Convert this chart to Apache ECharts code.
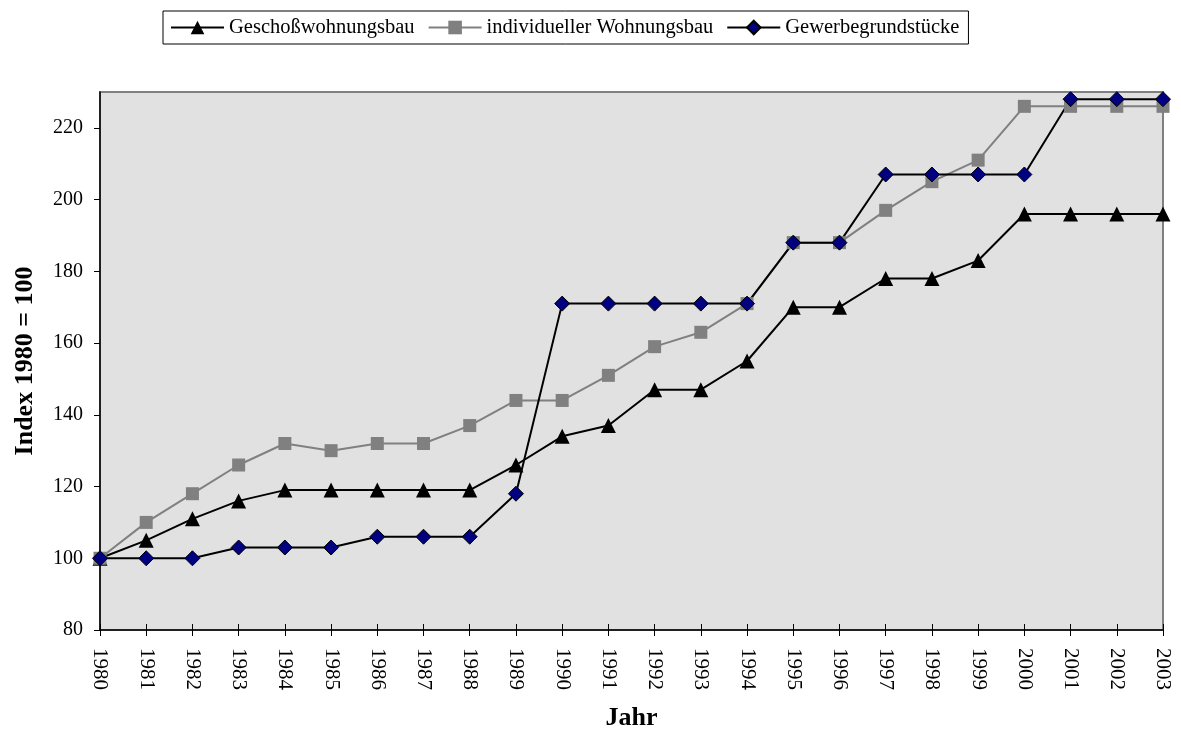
<!DOCTYPE html>
<html>
<head>
<meta charset="utf-8">
<script src="https://cdn.jsdelivr.net/npm/echarts@6/dist/echarts.min.js"></script>
<style>
  html, body { margin: 0; padding: 0; background: #fff; }
  #chart { width: 1181px; height: 736px; }
</style>
</head>
<body>
<div id="chart"></div>
<script>
const years = ['1980', '1981', '1982', '1983', '1984', '1985', '1986', '1987', '1988', '1989', '1990', '1991',
  '1992', '1993', '1994', '1995', '1996', '1997', '1998', '1999', '2000', '2001', '2002', '2003'];
const geschoss = [100, 105, 111, 116, 119, 119, 119, 119, 119, 126, 134, 137, 147, 147, 155, 170, 170, 178, 178, 183, 196, 196, 196, 196];
const individuell = [100, 110, 118, 126, 132, 130, 132, 132, 137, 144, 144, 151, 159, 163, 171, 188, 188, 197, 205, 211, 226, 226, 226, 226];
const gewerbe = [100, 100, 100, 103, 103, 103, 106, 106, 106, 118, 171, 171, 171, 171, 171, 188, 188, 207, 207, 207, 207, 228, 228, 228];
const yTicks = [80, 100, 120, 140, 160, 180, 200, 220];

const font = "'Liberation Serif', 'Times New Roman', serif";

const chart = echarts.init(document.getElementById('chart'), null, { renderer: 'canvas' });

const option = {
  animation: false,
  textStyle: { fontFamily: font, color: '#000' },
  legend: {
    left: 163,
    top: 11,
    padding: [6, 9, 6, 7],
    itemWidth: 53,
    itemHeight: 17,
    itemGap: 13,
    borderColor: '#000',
    borderWidth: 1,
    textStyle: { fontFamily: font, fontSize: 20.5, color: '#000' },
    data: ['Geschoßwohnungsbau', 'individueller Wohnungsbau', 'Gewerbegrundstücke']
  },
  grid: {
    left: 100,
    right: 18,
    top: 92,
    bottom: 104,
    show: true,
    backgroundColor: '#e1e1e1',
    borderColor: '#808080',
    borderWidth: 2
  },
  xAxis: [
    {
      type: 'category',
      data: years,
      boundaryGap: false,
      name: 'Jahr',
      nameLocation: 'middle',
      nameGap: 75,
      nameTextStyle: { fontFamily: font, fontSize: 26, fontWeight: 'bold', color: '#000' },
      axisLine: { lineStyle: { color: '#000', width: 1.5 } },
      axisTick: { alignWithLabel: true, length: 6, lineStyle: { color: '#000' } },
      axisLabel: { rotate: -90, margin: 18, fontFamily: font, fontSize: 21, color: '#000', interval: 0 },
      splitLine: { show: false }
    },
    {
      type: 'category',
      data: years,
      boundaryGap: false,
      position: 'bottom',
      axisLine: { show: false },
      axisTick: { inside: true, length: 6, lineStyle: { color: '#000' } },
      axisLabel: { show: false },
      splitLine: { show: false }
    }
  ],
  yAxis: {
    type: 'value',
    min: 80,
    max: 230,
    interval: 20,
    name: 'Index 1980 = 100',
    nameLocation: 'middle',
    nameRotate: 90,
    nameGap: 62,
    nameTextStyle: { fontFamily: font, fontSize: 26, fontWeight: 'bold', color: '#000' },
    axisLine: { show: true, lineStyle: { color: '#000', width: 1.5 } },
    axisTick: { show: true, length: 6, customValues: yTicks, lineStyle: { color: '#000' } },
    axisLabel: {
      margin: 17,
      fontFamily: font,
      fontSize: 20,
      color: '#000',
      customValues: yTicks
    },
    splitLine: { show: false }
  },
  series: [
    {
      name: 'Geschoßwohnungsbau',
      type: 'line',
      data: geschoss,
      symbol: 'triangle',
      symbolSize: 15,
      lineStyle: { color: '#000', width: 2 },
      itemStyle: { color: '#000' }
    },
    {
      name: 'individueller Wohnungsbau',
      type: 'line',
      data: individuell,
      symbol: 'rect',
      symbolSize: 13,
      lineStyle: { color: '#808080', width: 2 },
      itemStyle: { color: '#808080' }
    },
    {
      name: 'Gewerbegrundstücke',
      type: 'line',
      data: gewerbe,
      symbol: 'diamond',
      symbolSize: 15,
      lineStyle: { color: '#000', width: 2 },
      itemStyle: { color: '#000080', borderColor: '#000', borderWidth: 1 }
    }
  ]
};

chart.setOption(option);
</script>
</body>
</html>
